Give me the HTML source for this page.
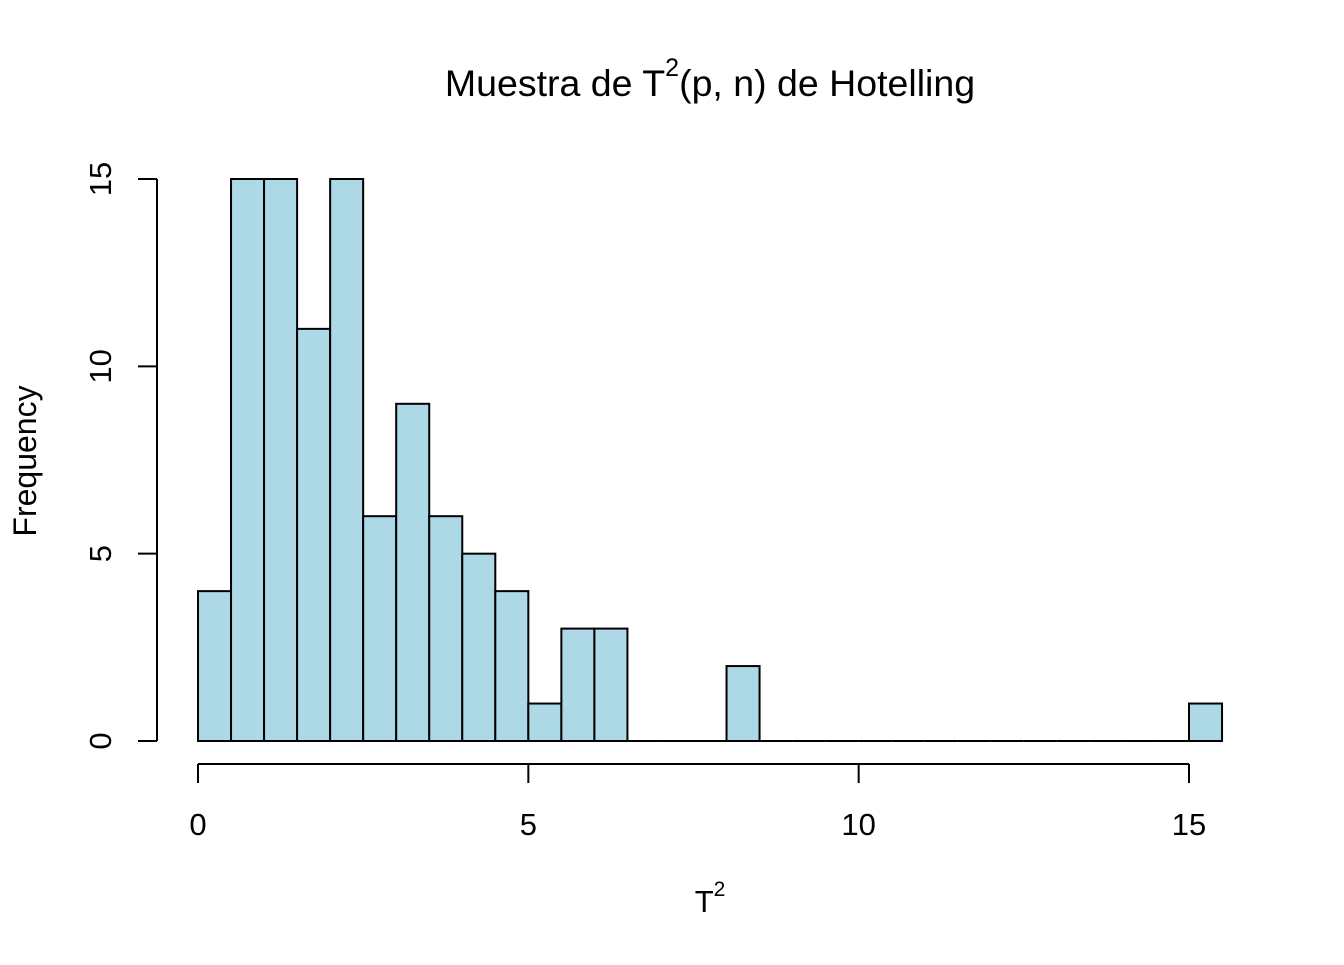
<!DOCTYPE html>
<html><head><meta charset="utf-8"><style>
body{margin:0;background:#fff}
svg text{font-family:"Liberation Sans",Arial,sans-serif;fill:#000}
</style></head><body>
<svg id="chart" width="1344" height="960">
<text x="710" y="96" font-size="37.5" text-anchor="middle">Muestra de T<tspan dy="-20" font-size="25">2</tspan><tspan dy="20">(p, n) de Hotelling</tspan></text>
<text x="710" y="912" font-size="31" text-anchor="middle">T<tspan dy="-16" font-size="21">2</tspan></text>
<text transform="translate(36,461) rotate(-90)" font-size="32" text-anchor="middle">Frequency</text>
<g id="bars"></g><g id="xaxis"></g><g id="yaxis"></g>
</svg>
<script>
const binStart = 0;
const binWidth = 0.5;
const counts = [4,15,15,11,15,6,9,6,5,4,1,3,3,0,0,0,2,0,0,0,0,0,0,0,0,0,0,0,0,0,1];
const xTicks = [0,5,10,15];
const yTicks = [0,5,10,15];
const NS="http://www.w3.org/2000/svg";
const xs = v => 198 + v*(1189-198)/15;
const ys = v => 741 - v*(741-179)/15;
function mk(tag,attrs,parent){const e=document.createElementNS(NS,tag);for(const k in attrs)e.setAttribute(k,attrs[k]);parent.appendChild(e);return e;}
const bars=document.getElementById('bars');
counts.forEach((c,i)=>{
  const x0=xs(binStart+i*binWidth), x1=xs(binStart+(i+1)*binWidth);
  let r;
  if(c===0){
    r=mk('line',{x1:x0,x2:x1,y1:ys(0),y2:ys(0),stroke:'#000','stroke-width':2},bars);
  } else {
    r=mk('rect',{x:x0,y:ys(c),width:x1-x0,height:ys(0)-ys(c),fill:'#add8e6',stroke:'#000','stroke-width':2},bars);
  }
  
  
});
const xa=document.getElementById('xaxis');
const xl=mk('line',{x1:xs(xTicks[0]),x2:xs(xTicks[xTicks.length-1]),y1:764,y2:764,stroke:'#000','stroke-width':2},xa);


xTicks.forEach(t=>{
  mk('line',{x1:xs(t),x2:xs(t),y1:764,y2:783,stroke:'#000','stroke-width':2},xa);
  const tx=mk('text',{x:xs(t),y:835,'font-size':31,'text-anchor':'middle'},xa);tx.textContent=t;
  
  
});
const ya=document.getElementById('yaxis');
const yl=mk('line',{x1:157,x2:157,y1:ys(yTicks[0]),y2:ys(yTicks[yTicks.length-1]),stroke:'#000','stroke-width':2},ya);


yTicks.forEach(t=>{
  mk('line',{x1:138,x2:157,y1:ys(t),y2:ys(t),stroke:'#000','stroke-width':2},ya);
  const tx=mk('text',{transform:`translate(111,${ys(t)}) rotate(-90)`,'font-size':31,'text-anchor':'middle'},ya);tx.textContent=t;
  
  
});
</script>
</body></html>
